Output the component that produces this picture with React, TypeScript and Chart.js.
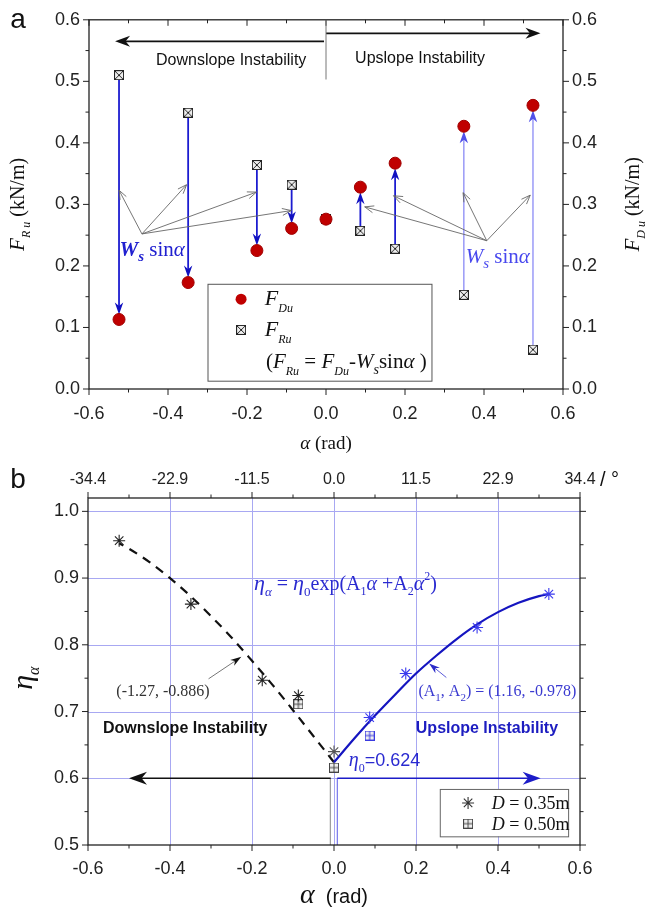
import React, { useEffect, useRef } from 'react';
import { Chart, registerables } from 'chart.js';
Chart.register(...registerables);

// ---------- Panel a data ----------
const alphaA = [-0.524, -0.349, -0.175, -0.087, 0, 0.087, 0.175, 0.349, 0.524];
const fDu = [0.113, 0.173, 0.225, 0.261, 0.276, 0.328, 0.367, 0.427, 0.461];
const fRu = [0.51, 0.449, 0.364, 0.332, 0.277, 0.257, 0.228, 0.153, 0.064];
const xTicksA = [-0.6, -0.4, -0.2, 0, 0.2, 0.4, 0.6];
const yTicksA = [0, 0.1, 0.2, 0.3, 0.4, 0.5, 0.6];

// ---------- Panel b data ----------
const alphaD35 = [-0.524, -0.349, -0.175, -0.087, 0, 0.087, 0.175, 0.349, 0.524];
const etaD35 = [0.956, 0.861, 0.747, 0.724, 0.64, 0.691, 0.757, 0.826, 0.876];
const alphaD50 = [-0.087, 0, 0.087];
const etaD50 = [0.711, 0.616, 0.664];
const fitUpAlpha = [0, 0.05, 0.1, 0.15, 0.2, 0.25, 0.3, 0.35, 0.4, 0.45, 0.5, 0.524];
const fitUpEta = [0.624, 0.66, 0.694, 0.726, 0.757, 0.784, 0.809, 0.831, 0.849, 0.863, 0.873, 0.876];
const fitDownAlpha = [0, -0.05, -0.1, -0.15, -0.2, -0.25, -0.3, -0.35, -0.4, -0.45, -0.5, -0.524];
const fitDownEta = [0.624, 0.663, 0.702, 0.74, 0.776, 0.811, 0.843, 0.873, 0.9, 0.924, 0.944, 0.952];
const xTicksB = [-0.6, -0.4, -0.2, 0, 0.2, 0.4, 0.6];
const degLabelsB = ['-34.4', '-22.9', '-11.5', '0.0', '11.5', '22.9', '34.4'];
const yTicksB = [0.5, 0.6, 0.7, 0.8, 0.9, 1.0];

const SERIF = "'Liberation Serif','Times New Roman',serif";
const SANS = "'Liberation Sans',Arial,sans-serif";
const fmt = (v: number) => (Math.abs(v) < 1e-9 ? '0.0' : v.toFixed(1));

type Run = { t: string; f: string; dy?: number };
function drawRich(ctx: CanvasRenderingContext2D, runs: Run[], x: number, y: number, align: string, color: string) {
  ctx.save();
  ctx.fillStyle = color;
  ctx.textBaseline = 'alphabetic';
  ctx.textAlign = 'left';
  let w = 0;
  for (const r of runs) { ctx.font = r.f; w += ctx.measureText(r.t).width; }
  let cx = align === 'left' ? x : align === 'center' ? x - w / 2 : x - w;
  for (const r of runs) {
    ctx.font = r.f;
    ctx.fillText(r.t, cx, y + (r.dy || 0));
    cx += ctx.measureText(r.t).width;
  }
  ctx.restore();
}

function arrow(ctx: CanvasRenderingContext2D, x1: number, y1: number, x2: number, y2: number,
  o: { color: string; width: number; head: number; hw: number; open?: boolean; headColor?: string }) {
  const ang = Math.atan2(y2 - y1, x2 - x1);
  const c = Math.cos(ang), s = Math.sin(ang);
  ctx.save();
  ctx.strokeStyle = o.color;
  ctx.lineWidth = o.width;
  ctx.beginPath();
  ctx.moveTo(x1, y1);
  const back = o.open ? 0 : o.head * 0.6;
  ctx.lineTo(x2 - c * back, y2 - s * back);
  ctx.stroke();
  const bx = x2 - c * o.head, by = y2 - s * o.head;
  const p1x = bx - s * o.hw, p1y = by + c * o.hw;
  const p2x = bx + s * o.hw, p2y = by - c * o.hw;
  ctx.strokeStyle = o.headColor || o.color;
  ctx.fillStyle = o.headColor || o.color;
  ctx.beginPath();
  if (o.open) {
    ctx.moveTo(p1x, p1y); ctx.lineTo(x2, y2); ctx.lineTo(p2x, p2y);
    ctx.stroke();
  } else {
    const nx = x2 - c * o.head * 0.7, ny = y2 - s * o.head * 0.7;
    ctx.moveTo(x2, y2); ctx.lineTo(p1x, p1y); ctx.lineTo(nx, ny); ctx.lineTo(p2x, p2y); ctx.closePath();
    ctx.fill();
  }
  ctx.restore();
}

function makeBox(kind: string, color: string, size: number) {
  const c = document.createElement('canvas');
  c.width = size; c.height = size;
  const g = c.getContext('2d')!;
  g.fillStyle = '#eeeeee';
  g.fillRect(0.5, 0.5, size - 1, size - 1);
  g.strokeStyle = color; g.lineWidth = 1;
  g.strokeRect(0.5, 0.5, size - 1, size - 1);
  g.beginPath();
  if (kind === 'x') {
    g.moveTo(1, 1); g.lineTo(size - 1, size - 1); g.moveTo(size - 1, 1); g.lineTo(1, size - 1);
  } else {
    const m = size / 2;
    g.moveTo(m, 1); g.lineTo(m, size - 1); g.moveTo(1, m); g.lineTo(size - 1, m);
  }
  g.stroke();
  return c;
}

function frameTicks(chart: any, xMajor: number[], yMajor: number[], topDir: number) {
  const { ctx, chartArea: ca } = chart;
  const xs = chart.scales.x, ys = chart.scales.y;
  ctx.save();
  ctx.strokeStyle = '#222';
  ctx.lineWidth = 1.3;
  ctx.strokeRect(ca.left, ca.top, ca.right - ca.left, ca.bottom - ca.top);
  ctx.lineWidth = 1;
  const M = 6, m = 3.5;
  ctx.beginPath();
  const xMinor: number[] = [];
  for (let i = 0; i < xMajor.length - 1; i++) xMinor.push((xMajor[i] + xMajor[i + 1]) / 2);
  const yMinor: number[] = [];
  for (let i = 0; i < yMajor.length - 1; i++) yMinor.push((yMajor[i] + yMajor[i + 1]) / 2);
  xMajor.forEach((v) => {
    const x = xs.getPixelForValue(v);
    ctx.moveTo(x, ca.bottom); ctx.lineTo(x, ca.bottom + M);
    ctx.moveTo(x, ca.top); ctx.lineTo(x, ca.top + topDir * M);
  });
  xMinor.forEach((v) => {
    const x = xs.getPixelForValue(v);
    ctx.moveTo(x, ca.bottom); ctx.lineTo(x, ca.bottom + m);
    ctx.moveTo(x, ca.top); ctx.lineTo(x, ca.top + topDir * m);
  });
  yMajor.forEach((v) => {
    const y = ys.getPixelForValue(v);
    ctx.moveTo(ca.left, y); ctx.lineTo(ca.left - M, y);
    ctx.moveTo(ca.right, y); ctx.lineTo(ca.right + M, y);
  });
  yMinor.forEach((v) => {
    const y = ys.getPixelForValue(v);
    ctx.moveTo(ca.left, y); ctx.lineTo(ca.left - m, y);
    ctx.moveTo(ca.right, y); ctx.lineTo(ca.right + m, y);
  });
  ctx.stroke();
  ctx.restore();
}

const tickFont = { family: SANS, size: 18 };

function cfgA(): any {
  const boxX = makeBox('x', '#222', 10);
  const pluginA = {
    id: 'panelA',
    beforeDatasetsDraw(chart: any) {
      const ctx = chart.ctx;
      const px = (v: number) => chart.scales.x.getPixelForValue(v);
      const py = (v: number) => chart.scales.y.getPixelForValue(v);
      frameTicks(chart, xTicksA, yTicksA, 1);
      // top direction arrows
      arrow(ctx, px(-0.005), py(0.565), px(-0.534), py(0.565), { color: '#111', width: 1.6, head: 15, hw: 5.5 });
      arrow(ctx, px(0.0), py(0.578), px(0.543), py(0.578), { color: '#111', width: 1.6, head: 15, hw: 5.5 });
      ctx.save();
      ctx.strokeStyle = '#777'; ctx.lineWidth = 1;
      ctx.beginPath(); ctx.moveTo(px(0), py(0.6)); ctx.lineTo(px(0), py(0.503)); ctx.stroke();
      ctx.restore();
      // W_s sin(alpha) arrows from F_Ru to F_Du
      alphaA.forEach((a, i) => {
        const d = fDu[i] - fRu[i];
        if (Math.abs(d) < 0.005) return;
        const y1 = py(fRu[i]), y2 = py(fDu[i]);
        const dir = Math.sign(y2 - y1);
        const light = a > 0.3;
        arrow(ctx, px(a), y1, px(a), y2 - dir * 5, {
          color: light ? '#8080f4' : '#1c1cd0', width: light ? 1.2 : 1.8,
          head: 12, hw: 4.2, headColor: light ? '#5050e8' : '#1010c0',
        });
      });
      // gray pointer arrows
      const gray = { color: '#666', width: 0.9, head: 9, hw: 3.5, open: true };
      const oL = [-0.466, 0.252];
      [[-0.524, 0.323], [-0.353, 0.332], [-0.176, 0.32], [-0.088, 0.29]].forEach((t) =>
        arrow(ctx, px(oL[0]), py(oL[1]), px(t[0]), py(t[1]), gray));
      const oR = [0.407, 0.241];
      [[0.098, 0.296], [0.171, 0.314], [0.347, 0.319], [0.517, 0.315]].forEach((t) =>
        arrow(ctx, px(oR[0]), py(oR[1]), px(t[0]), py(t[1]), gray));
    },
    afterDatasetsDraw(chart: any) {
      const ctx = chart.ctx;
      const px = (v: number) => chart.scales.x.getPixelForValue(v);
      const py = (v: number) => chart.scales.y.getPixelForValue(v);
      drawRich(ctx, [{ t: 'Downslope Instability', f: `16px ${SANS}` }], px(-0.24), py(0.536) + 6, 'center', '#111');
      drawRich(ctx, [{ t: 'Upslope Instability', f: `16px ${SANS}` }], px(0.238), py(0.54) + 6, 'center', '#111');
      drawRich(ctx, [
        { t: 'W', f: `italic bold 21px ${SERIF}` },
        { t: 's', f: `italic bold 15px ${SERIF}`, dy: 5 },
        { t: ' sin', f: `21px ${SERIF}` },
        { t: 'α', f: `italic 21px ${SERIF}` },
      ], px(-0.44), py(0.227) + 7, 'center', '#2020d0');
      drawRich(ctx, [
        { t: 'W', f: `italic 21px ${SERIF}` },
        { t: 's', f: `italic 15px ${SERIF}`, dy: 5 },
        { t: ' sin', f: `21px ${SERIF}` },
        { t: 'α', f: `italic 21px ${SERIF}` },
      ], px(0.435), py(0.216) + 7, 'center', '#4848ee');
      // legend box
      const l = px(-0.3), r = px(0.267), t = py(0.171), b = py(0.0135);
      ctx.save();
      ctx.fillStyle = '#fff'; ctx.fillRect(l, t, r - l, b - t);
      ctx.strokeStyle = '#555'; ctx.lineWidth = 1; ctx.strokeRect(l + 0.5, t + 0.5, r - l, b - t);
      ctx.fillStyle = '#c00000';
      ctx.beginPath(); ctx.arc(px(-0.215), py(0.146), 5.5, 0, Math.PI * 2); ctx.fill();
      ctx.drawImage(boxX, px(-0.215) - 5, py(0.096) - 5);
      ctx.restore();
      drawRich(ctx, [{ t: 'F', f: `italic 22px ${SERIF}` }, { t: 'Du', f: `italic 12px ${SERIF}`, dy: 7 }], px(-0.155), py(0.146) + 6, 'left', '#111');
      drawRich(ctx, [{ t: 'F', f: `italic 22px ${SERIF}` }, { t: 'Ru', f: `italic 12px ${SERIF}`, dy: 7 }], px(-0.155), py(0.096) + 6, 'left', '#111');
      drawRich(ctx, [
        { t: '(', f: `21px ${SERIF}` },
        { t: 'F', f: `italic 21px ${SERIF}` },
        { t: 'Ru', f: `italic 12px ${SERIF}`, dy: 7 },
        { t: ' = ', f: `21px ${SERIF}` },
        { t: 'F', f: `italic 21px ${SERIF}` },
        { t: 'Du', f: `italic 12px ${SERIF}`, dy: 7 },
        { t: '-', f: `21px ${SERIF}` },
        { t: 'W', f: `italic 21px ${SERIF}` },
        { t: 's', f: `italic 14px ${SERIF}`, dy: 6 },
        { t: 'sin', f: `21px ${SERIF}` },
        { t: 'α', f: `italic 21px ${SERIF}` },
        { t: ' )', f: `21px ${SERIF}` },
      ], px(-0.152), py(0.046) + 7, 'left', '#111');
      // axis titles
      drawRich(ctx, [{ t: 'α', f: `italic 19px ${SERIF}` }, { t: ' (rad)', f: `19px ${SERIF}` }], px(0), 449, 'center', '#111');
      const cy = py(0.3);
      ctx.save(); ctx.translate(24, cy); ctx.rotate(-Math.PI / 2);
      drawRich(ctx, [
        { t: 'F', f: `italic 21px ${SERIF}` }, { t: 'R u', f: `italic 12px ${SERIF}`, dy: 6 },
        { t: ' (kN/m)', f: `20px ${SERIF}` },
      ], 0, 0, 'center', '#111');
      ctx.restore();
      ctx.save(); ctx.translate(639, cy); ctx.rotate(-Math.PI / 2);
      drawRich(ctx, [
        { t: 'F', f: `italic 21px ${SERIF}` }, { t: 'D u', f: `italic 12px ${SERIF}`, dy: 6 },
        { t: ' (kN/m)', f: `20px ${SERIF}` },
      ], 0, 0, 'center', '#111');
      ctx.restore();
      drawRich(ctx, [{ t: 'a', f: `28px ${SANS}` }], 18, 28, 'center', '#111');
    },
  };
  return {
    type: 'scatter',
    data: {
      datasets: [
        {
          label: 'FDu', data: alphaA.map((a, i) => ({ x: a, y: fDu[i] })),
          pointStyle: 'circle', pointRadius: 6, backgroundColor: '#c00000', borderColor: '#a00000', borderWidth: 1,
        },
        {
          label: 'FRu', data: alphaA.map((a, i) => ({ x: a, y: fRu[i] })),
          pointStyle: boxX, pointRadius: 5,
        },
      ],
    },
    options: {
      animation: false, responsive: false, devicePixelRatio: 1,
      layout: { padding: { top: 17, left: 0, right: 0, bottom: 0 } },
      plugins: { legend: { display: false }, tooltip: { enabled: false } },
      scales: {
        x: {
          type: 'linear', min: -0.6, max: 0.6,
          afterBuildTicks: (s: any) => { s.ticks = xTicksA.map((v) => ({ value: v })); },
          afterFit: (s: any) => { s.height = 460 - 389; },
          ticks: { callback: (v: any) => fmt(Number(v)), font: tickFont, color: '#222', padding: 14, maxRotation: 0, autoSkip: false },
          grid: { display: false, drawTicks: false, tickLength: 0 }, border: { display: false },
        },
        y: {
          type: 'linear', position: 'left', min: 0, max: 0.6,
          afterBuildTicks: (s: any) => { s.ticks = yTicksA.map((v) => ({ value: v })); },
          afterFit: (s: any) => { s.width = 89; },
          ticks: { callback: (v: any) => fmt(Number(v)), font: tickFont, color: '#222', padding: 9, autoSkip: false },
          grid: { display: false, drawTicks: false, tickLength: 0 }, border: { display: false },
        },
        y2: {
          type: 'linear', position: 'right', min: 0, max: 0.6,
          afterBuildTicks: (s: any) => { s.ticks = yTicksA.map((v) => ({ value: v })); },
          afterFit: (s: any) => { s.width = 665 - 563; },
          ticks: { callback: (v: any) => fmt(Number(v)), font: tickFont, color: '#222', padding: 9, autoSkip: false },
          grid: { display: false, drawTicks: false, tickLength: 0 }, border: { display: false },
        },
      },
    },
    plugins: [pluginA],
  };
}

function cfgB(): any {
  const boxPlusGray = makeBox('plus', '#444', 10);
  const boxPlusBlue = makeBox('plus', '#3a3ae0', 10);
  const pluginB = {
    id: 'panelB',
    beforeDatasetsDraw(chart: any) {
      const ctx = chart.ctx;
      const ca = chart.chartArea;
      const px = (v: number) => chart.scales.x.getPixelForValue(v);
      const py = (v: number) => chart.scales.y.getPixelForValue(v);
      ctx.save();
      ctx.strokeStyle = '#a8a8f2'; ctx.lineWidth = 1;
      ctx.beginPath();
      xTicksB.slice(1, -1).forEach((v) => { const x = Math.round(px(v)) + 0.5; ctx.moveTo(x, ca.top); ctx.lineTo(x, ca.bottom); });
      yTicksB.slice(1).forEach((v) => { const y = Math.round(py(v)) + 0.5; ctx.moveTo(ca.left, y); ctx.lineTo(ca.right, y); });
      ctx.stroke();
      // thin vertical lines near zero
      ctx.strokeStyle = '#888'; ctx.lineWidth = 1;
      ctx.beginPath(); ctx.moveTo(px(-0.009), py(0.6)); ctx.lineTo(px(-0.009), py(0.5)); ctx.stroke();
      ctx.strokeStyle = '#5a5ae8';
      ctx.beginPath(); ctx.moveTo(px(0.008), py(0.6)); ctx.lineTo(px(0.008), py(0.5)); ctx.stroke();
      ctx.restore();
      frameTicks(chart, xTicksB, yTicksB, -1);
      // direction arrows at 0.6
      arrow(ctx, px(-0.008), py(0.6), px(-0.5), py(0.6), { color: '#111', width: 1.6, head: 18, hw: 6.5 });
      arrow(ctx, px(0.008), py(0.6), px(0.504), py(0.6), { color: '#1c1cc8', width: 1.6, head: 18, hw: 6.5 });
      // annotation arrows
      arrow(ctx, px(-0.306), py(0.749), px(-0.226), py(0.782), { color: '#777', width: 1, head: 11, hw: 3.5, headColor: '#111' });
      arrow(ctx, px(0.274), py(0.751), px(0.232), py(0.772), { color: '#5a5ad8', width: 1, head: 11, hw: 3.5, headColor: '#2a2ac8' });
    },
    afterDatasetsDraw(chart: any) {
      const ctx = chart.ctx;
      const px = (v: number) => chart.scales.x.getPixelForValue(v);
      const py = (v: number) => chart.scales.y.getPixelForValue(v);
      const blue = '#2a2ad0';
      drawRich(ctx, [
        { t: 'η', f: `italic 22px ${SERIF}` }, { t: 'α', f: `italic 13px ${SERIF}`, dy: 6 },
        { t: ' = ', f: `20px ${SERIF}` },
        { t: 'η', f: `italic 22px ${SERIF}` }, { t: '0', f: `13px ${SERIF}`, dy: 6 },
        { t: 'exp(A', f: `20px ${SERIF}` }, { t: '1', f: `12px ${SERIF}`, dy: 5 },
        { t: 'α', f: `italic 20px ${SERIF}` },
        { t: ' +A', f: `20px ${SERIF}` }, { t: '2', f: `12px ${SERIF}`, dy: 5 },
        { t: 'α', f: `italic 20px ${SERIF}` }, { t: '2', f: `12px ${SERIF}`, dy: -10 },
        { t: ')', f: `20px ${SERIF}` },
      ], px(0.028), py(0.892) + 7, 'center', blue);
      drawRich(ctx, [{ t: '(-1.27, -0.886)', f: `16px ${SERIF}` }], px(-0.417), py(0.733) + 6, 'center', '#333');
      drawRich(ctx, [
        { t: '(A', f: `16px ${SERIF}` }, { t: '1', f: `11px ${SERIF}`, dy: 5 },
        { t: ', A', f: `16px ${SERIF}` }, { t: '2', f: `11px ${SERIF}`, dy: 5 },
        { t: ') = (1.16, -0.978)', f: `16px ${SERIF}` },
      ], px(0.206), py(0.733) + 6, 'left', '#3a3ad0');
      drawRich(ctx, [{ t: 'Downslope Instability', f: `bold 16px ${SANS}` }], px(-0.363), py(0.677) + 6, 'center', '#111');
      drawRich(ctx, [{ t: 'Upslope Instability', f: `bold 16px ${SANS}` }], px(0.373), py(0.677) + 6, 'center', '#1c1cc0');
      drawRich(ctx, [
        { t: 'η', f: `italic 20px ${SERIF}` }, { t: '0', f: `12px ${SERIF}`, dy: 6 },
        { t: '=0.624', f: `18px ${SANS}` },
      ], px(0.036), py(0.628) + 6, 'left', blue);
      // legend
      const l = px(0.258), r = px(0.571), t = py(0.584), b = py(0.513);
      ctx.save();
      ctx.fillStyle = '#fff'; ctx.fillRect(l, t, r - l, b - t);
      ctx.strokeStyle = '#666'; ctx.lineWidth = 1; ctx.strokeRect(l + 0.5, t + 0.5, r - l, b - t);
      const sx = px(0.327), sy = py(0.563), rr = 6;
      ctx.strokeStyle = '#333'; ctx.lineWidth = 1.1;
      ctx.beginPath();
      ctx.moveTo(sx - rr, sy); ctx.lineTo(sx + rr, sy); ctx.moveTo(sx, sy - rr); ctx.lineTo(sx, sy + rr);
      const d = rr * 0.707;
      ctx.moveTo(sx - d, sy - d); ctx.lineTo(sx + d, sy + d); ctx.moveTo(sx - d, sy + d); ctx.lineTo(sx + d, sy - d);
      ctx.stroke();
      ctx.drawImage(boxPlusGray, px(0.327) - 5, py(0.532) - 5);
      ctx.restore();
      drawRich(ctx, [{ t: 'D', f: `italic 18px ${SERIF}` }, { t: ' = 0.35m', f: `18px ${SERIF}` }], px(0.385), py(0.563) + 6, 'left', '#111');
      drawRich(ctx, [{ t: 'D', f: `italic 18px ${SERIF}` }, { t: ' = 0.50m', f: `18px ${SERIF}` }], px(0.385), py(0.532) + 6, 'left', '#111');
      // axis titles
      drawRich(ctx, [{ t: 'α', f: `italic 28px ${SERIF}` }, { t: '  (rad)', f: `20px ${SANS}` }], px(0), 443, 'center', '#111');
      ctx.save(); ctx.translate(32, py(0.75)); ctx.rotate(-Math.PI / 2);
      drawRich(ctx, [{ t: 'η', f: `italic 30px ${SERIF}` }, { t: 'α', f: `italic 16px ${SERIF}`, dy: 7 }], 0, 0, 'center', '#111');
      ctx.restore();
      drawRich(ctx, [{ t: '/ °', f: `20px ${SANS}` }], px(0.6) + 20, 26, 'left', '#111');
      drawRich(ctx, [{ t: 'b', f: `28px ${SANS}` }], 18, 28, 'center', '#111');
    },
  };
  const sideColor = (a: number) => (a < 0 ? '#222' : a === 0 ? '#555' : '#3a3aee');
  return {
    type: 'scatter',
    data: {
      datasets: [
        {
          label: 'D35', data: alphaD35.map((a, i) => ({ x: a, y: etaD35[i] })),
          pointStyle: 'star', pointRadius: 6, borderWidth: 1.1,
          borderColor: alphaD35.map(sideColor), backgroundColor: 'transparent',
        },
        {
          label: 'D50', data: alphaD50.map((a, i) => ({ x: a, y: etaD50[i] })),
          pointStyle: alphaD50.map((a) => (a > 0 ? boxPlusBlue : boxPlusGray)), pointRadius: 5,
        },
        {
          label: 'fitUp', data: fitUpAlpha.map((a, i) => ({ x: a, y: fitUpEta[i] })),
          showLine: true, pointRadius: 0, borderColor: '#1515c0', borderWidth: 2.2, cubicInterpolationMode: 'monotone',
        },
        {
          label: 'fitDown', data: fitDownAlpha.map((a, i) => ({ x: a, y: fitDownEta[i] })),
          showLine: true, pointRadius: 0, borderColor: '#111', borderWidth: 2.2, borderDash: [9, 7], cubicInterpolationMode: 'monotone',
        },
      ],
    },
    options: {
      animation: false, responsive: false, devicePixelRatio: 1,
      layout: { padding: { top: 0, left: 0, right: 665 - 580, bottom: 0 } },
      plugins: { legend: { display: false }, tooltip: { enabled: false } },
      scales: {
        x: {
          type: 'linear', min: -0.6, max: 0.6,
          afterBuildTicks: (s: any) => { s.ticks = xTicksB.map((v) => ({ value: v })); },
          afterFit: (s: any) => { s.height = 452 - 385; },
          ticks: { callback: (v: any) => fmt(Number(v)), font: tickFont, color: '#222', padding: 13, maxRotation: 0, autoSkip: false },
          grid: { display: false, drawTicks: false, tickLength: 0 }, border: { display: false },
        },
        x2: {
          type: 'linear', position: 'top', min: -0.6, max: 0.6,
          afterBuildTicks: (s: any) => { s.ticks = xTicksB.map((v) => ({ value: v })); },
          afterFit: (s: any) => { s.height = 38; },
          ticks: { callback: (_v: any, i: number) => degLabelsB[i], font: { family: SANS, size: 16 }, color: '#222', padding: 9, maxRotation: 0, autoSkip: false },
          grid: { display: false, drawTicks: false, tickLength: 0 }, border: { display: false },
        },
        y: {
          type: 'linear', position: 'left', min: 0.5, max: 1.02,
          afterBuildTicks: (s: any) => { s.ticks = yTicksB.map((v) => ({ value: v })); },
          afterFit: (s: any) => { s.width = 88; },
          ticks: { callback: (v: any) => fmt(Number(v)), font: tickFont, color: '#222', padding: 9, autoSkip: false },
          grid: { display: false, drawTicks: false, tickLength: 0 }, border: { display: false },
        },
      },
    },
    plugins: [pluginB],
  };
}

export default function App() {
  const refA = useRef<HTMLCanvasElement>(null);
  const refB = useRef<HTMLCanvasElement>(null);
  useEffect(() => {
    const a = new Chart(refA.current!, cfgA());
    const b = new Chart(refB.current!, cfgB());
    return () => { a.destroy(); b.destroy(); };
  }, []);
  return (
    <div style={{ position: 'absolute', left: 0, top: 0, width: 665, height: 912, background: '#fff' }}>
      <canvas ref={refA} width={665} height={460} style={{ position: 'absolute', left: 0, top: 0, width: 665, height: 460 }} />
      <canvas ref={refB} width={665} height={452} style={{ position: 'absolute', left: 0, top: 460, width: 665, height: 452 }} />
    </div>
  );
}
